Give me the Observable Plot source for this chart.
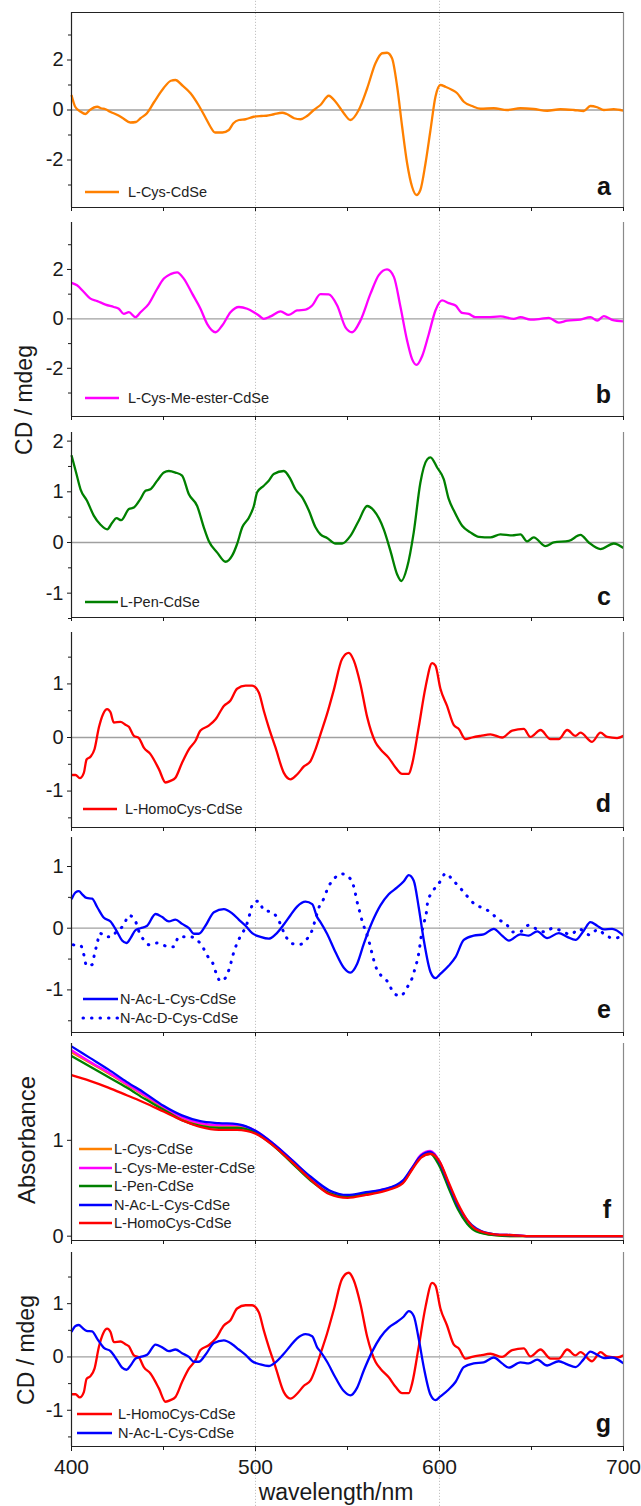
<!DOCTYPE html>
<html><head><meta charset="utf-8">
<script src="https://cdn.jsdelivr.net/npm/d3@7"></script>
<script src="https://cdn.jsdelivr.net/npm/@observablehq/plot@0.6"></script>
<style>
body{margin:0;background:#fff;}
#root{position:relative;width:641px;height:1506px;overflow:hidden;font-family:"Liberation Sans",Arial,sans-serif;}
#root svg{position:absolute;left:0;}
</style></head><body><div id="root"></div>
<script>
// ---------- DATA (wavelength nm, CD mdeg / absorbance) ----------
const lCys = [[400,0.6],[402,0.13],[405,-0.07],[407.6,-0.16],[410,0],[414,0.13],[416,0.07],[418.5,0.03],[421,-0.07],[425,-0.2],[428,-0.33],[432,-0.5],[435,-0.48],[437.5,-0.33],[441,-0.13],[445,0.33],[450,0.87],[454,1.17],[456.5,1.2],[460,1.0],[464.7,0.67],[469,0.2],[473,-0.33],[475.5,-0.67],[478,-0.9],[482,-0.9],[485.5,-0.8],[488,-0.53],[491,-0.4],[494.6,-0.37],[499,-0.27],[503,-0.24],[506,-0.23],[510,-0.17],[514.5,-0.11],[517,-0.16],[521,-0.33],[524.5,-0.37],[528,-0.24],[531.7,0],[535.3,0.2],[539.8,0.57],[543.5,0.33],[548,-0.13],[551.6,-0.4],[556.1,0],[560.7,0.87],[565.2,1.87],[568.8,2.27],[571.5,2.29],[574.2,2.07],[577,0.93],[579.7,-0.67],[582.4,-2.13],[585.1,-3.07],[587.5,-3.4],[589.6,-3.2],[592.4,-2.13],[595.1,-0.8],[597.8,0.53],[600.5,1.0],[603.2,0.93],[606.9,0.8],[609.6,0.67],[613.2,0.33],[617.7,0.16],[622.3,0.05],[629.5,0.07],[636.7,0],[644,0.07],[651.2,0.04],[658.5,-0.03],[665.7,0.03],[673,0],[678.4,-0.04],[682,0.16],[685.7,0.11],[689.3,0],[694.7,0.03],[700,-0.03]];

const lCysMe = [[400,1.46],[403,1.36],[406.7,1.09],[410.3,0.82],[414,0.72],[418.5,0.58],[423,0.48],[425.7,0.41],[428.4,0.2],[431.2,0.27],[434.8,0.07],[437.5,0.27],[442,0.61],[446.6,1.22],[450.2,1.63],[453.8,1.81],[457.4,1.88],[461,1.63],[465.6,1.02],[470.1,0.41],[473.7,-0.2],[478.3,-0.54],[481.9,-0.27],[486.4,0.27],[491,0.48],[495.5,0.41],[499.1,0.27],[501.8,0.14],[504.5,0],[508.2,0.1],[513.6,0.3],[518.1,0.16],[522.6,0.34],[527.2,0.37],[530.8,0.54],[535.3,1.0],[539.8,0.99],[544.4,0.54],[548.9,-0.34],[552.5,-0.54],[557,-0.07],[562.5,1.02],[567,1.77],[571.5,2.0],[575.2,1.7],[578.8,0.48],[582.4,-0.88],[585.1,-1.63],[587.5,-1.86],[590.6,-1.5],[594.2,-0.61],[597.8,0.34],[601.4,0.75],[605,0.64],[608.7,0.54],[612.3,0.24],[615.9,0.2],[619.5,0.07],[625.9,0.07],[633.1,0.1],[640.4,0],[644,0.07],[649.4,-0.03],[654.9,0],[659.4,0.04],[664.8,-0.15],[669.4,-0.07],[676.6,-0.03],[682,0.07],[685.7,-0.07],[689.3,0.11],[693.8,-0.04],[700,-0.1]];

const lPen = [[400,1.72],[402.7,1.35],[404.9,1.05],[408.5,0.82],[412.1,0.53],[415.8,0.35],[419.4,0.26],[422.1,0.39],[424.5,0.48],[427,0.44],[431.2,0.66],[433.9,0.69],[437.5,0.86],[440.2,1.02],[442.9,1.05],[446.6,1.22],[450.2,1.38],[452.9,1.41],[456.5,1.38],[460.1,1.32],[463.8,0.95],[468.3,0.72],[471.9,0.3],[474.6,0.03],[479.2,-0.2],[483.7,-0.38],[487.3,-0.26],[490,-0.03],[492.8,0.3],[496.4,0.49],[499.1,0.72],[500.9,0.99],[504.5,1.12],[507.2,1.22],[509.9,1.35],[515.4,1.41],[519,1.25],[521.7,1.05],[525.4,0.89],[529,0.63],[532.6,0.3],[535.3,0.16],[538.9,0.09],[543.5,-0.02],[547.1,-0.02],[551.6,0.13],[556.1,0.43],[560.7,0.72],[564.3,0.63],[569.7,0.26],[573.3,-0.16],[577,-0.63],[579.3,-0.76],[582.4,-0.49],[586,0.2],[589.6,1.18],[593.3,1.64],[595.1,1.68],[598.7,1.48],[602.3,1.25],[605,0.86],[607.8,0.63],[612.3,0.33],[616.8,0.2],[621.4,0.11],[627.7,0.1],[633.1,0.16],[639.5,0.14],[644,0.16],[647.6,0.02],[651.2,0.1],[657.6,-0.07],[662.1,0],[670.3,0.03],[676.6,0.15],[681.1,0],[687.5,-0.13],[694.7,-0.02],[700,-0.11]];

const lHomoCys = [[400,-0.7],[402.2,-0.7],[404.5,-0.76],[406.7,-0.66],[408.2,-0.41],[410.3,-0.36],[412.5,-0.22],[414.9,0.19],[417.2,0.44],[419.4,0.53],[421.2,0.47],[423,0.28],[426.6,0.29],[429.3,0.24],[431.2,0.2],[433.9,0.03],[436.6,-0.01],[439.3,-0.19],[442.9,-0.31],[447.5,-0.59],[451.1,-0.84],[453.8,-0.81],[456.5,-0.75],[460.1,-0.47],[463.8,-0.22],[467.4,-0.06],[470.1,0.13],[474.6,0.22],[478.3,0.34],[482.8,0.59],[486.4,0.69],[490,0.91],[494.6,0.97],[498.2,0.97],[501.8,0.84],[504.5,0.5],[507.2,0.19],[510.9,-0.19],[515.4,-0.66],[519,-0.78],[522.6,-0.69],[526.3,-0.54],[529.9,-0.44],[532.6,-0.22],[535.3,0.06],[538.9,0.44],[542.5,0.88],[547.1,1.47],[550.7,1.58],[553.4,1.44],[557,1.0],[560.7,0.38],[565.2,-0.09],[567.9,-0.22],[572.4,-0.38],[576.1,-0.56],[579.7,-0.68],[583.3,-0.68],[585.1,-0.5],[588.7,0.19],[592.4,0.94],[596,1.39],[597.8,1.34],[600.5,0.91],[604.1,0.59],[607.8,0.23],[610.5,0.16],[614.1,-0.03],[617.7,0],[622.3,0.03],[627.7,0.06],[634,0],[639.5,0.13],[645.8,0.16],[649.4,0.01],[654.9,0.14],[660.3,-0.03],[664.8,-0.03],[669.4,0.14],[673.9,0.03],[676.6,0.09],[682.9,-0.08],[687.5,0.09],[691.1,0.01],[696.5,-0.01],[700,0.03]];

const nAcLCys = [[400,0.47],[402.2,0.58],[404,0.6],[405.8,0.55],[408.2,0.49],[411.2,0.48],[414,0.34],[417.6,0.17],[421.2,0.11],[424.8,-0.06],[427.5,-0.2],[429.9,-0.24],[432.1,-0.16],[434.8,-0.03],[437.5,0],[441.1,0.04],[445.7,0.23],[449.3,0.18],[452.9,0.11],[456.5,0.14],[460.1,0.07],[463.8,0],[466.5,-0.09],[469.2,-0.09],[472.8,0.04],[477.4,0.26],[482.8,0.31],[487.3,0.24],[490.9,0.14],[494.6,0.04],[498.2,-0.08],[502.7,-0.14],[507.2,-0.17],[510.9,-0.1],[515.4,0.06],[519,0.21],[522.6,0.35],[527.2,0.43],[530.8,0.39],[533.5,0.18],[535.3,0.1],[538.9,-0.09],[543.5,-0.39],[548,-0.64],[551.6,-0.72],[555.2,-0.58],[558.9,-0.25],[563.4,0.1],[567.9,0.37],[572.4,0.55],[577,0.66],[580.6,0.76],[583.3,0.86],[586,0.77],[588.7,0.34],[591.5,-0.2],[595.1,-0.71],[597.8,-0.81],[600.5,-0.74],[605,-0.61],[608.7,-0.47],[613.2,-0.19],[618.6,-0.12],[624,-0.1],[629.5,-0.01],[634,-0.12],[637.7,-0.2],[644,-0.1],[648.5,-0.12],[653.1,-0.05],[658.5,-0.16],[664.8,-0.08],[669.4,-0.14],[673.9,-0.19],[678.4,-0.04],[682,0.1],[685.7,0.04],[689.3,-0.02],[693.8,-0.01],[700,-0.12]];

const nAcDCys = [[401,-0.27],[405,-0.28],[406.7,-0.43],[408.2,-0.61],[411.2,-0.59],[412.5,-0.42],[414,-0.24],[415.4,-0.08],[418.5,-0.14],[421.7,-0.14],[424.8,-0.04],[428.4,0.05],[431.2,0.21],[434.8,0.11],[436.6,-0.05],[439.3,-0.19],[442.4,-0.27],[446.6,-0.24],[452.9,-0.3],[455.6,-0.3],[458.3,-0.14],[461,-0.14],[464.7,-0.14],[468.3,-0.19],[471.6,-0.32],[474.1,-0.46],[477.4,-0.61],[478.8,-0.75],[481.3,-0.86],[484.6,-0.75],[486.4,-0.59],[487.9,-0.42],[490,-0.24],[492.2,-0.11],[495.1,0.05],[496.9,0.23],[498.7,0.41],[501.8,0.44],[504.5,0.29],[509.1,0.26],[511.8,0.17],[516.8,-0.15],[519.9,-0.25],[524.5,-0.26],[528.1,-0.17],[530.8,-0.03],[532.6,0.15],[534.4,0.33],[537.1,0.48],[539.3,0.65],[542.9,0.81],[547.1,0.88],[552.1,0.78],[554,0.6],[555.2,0.43],[556.7,0.26],[558.3,0.08],[560.3,-0.08],[562.1,-0.26],[563.6,-0.44],[565.2,-0.61],[568.3,-0.77],[572.4,-0.89],[574.8,-1.04],[578.8,-1.1],[582.4,-0.96],[585.1,-0.81],[586.9,-0.63],[588.4,-0.46],[589.3,-0.29],[590.2,-0.1],[591.5,0.08],[592.9,0.26],[593.6,0.43],[596.4,0.6],[600.2,0.75],[603.4,0.89],[607.2,0.78],[611,0.66],[615,0.52],[619.5,0.38],[623.5,0.33],[628.1,0.25],[631.9,0.14],[636,0.08],[639.8,-0.06],[644.4,-0.05],[648.5,0.05],[653.1,-0.02],[657.2,-0.06],[661.6,0],[671.5,-0.1],[675.7,-0.01],[681.7,-0.11],[686,-0.02],[690.4,-0.12],[694.7,-0.16],[700,-0.13]];

// absorbance (panel f)
const absWl      = [400,410,420,430,440,450,460,470,480,490,500,510,520,530,540,550,560,570,580,585,590,595,600,605,610,615,620,630,640,650,700];
const absLCys    = [1.92,1.81,1.70,1.58,1.46,1.34,1.23,1.17,1.15,1.15,1.09,0.95,0.78,0.60,0.46,0.41,0.44,0.48,0.56,0.70,0.84,0.87,0.76,0.52,0.30,0.14,0.06,0.01,0,0,0];
const absLCysMe  = [1.94,1.82,1.71,1.59,1.47,1.35,1.24,1.18,1.16,1.16,1.10,0.96,0.79,0.61,0.47,0.42,0.45,0.49,0.57,0.71,0.85,0.89,0.78,0.54,0.31,0.15,0.07,0.02,0.01,0,0];
const absLPen    = [1.88,1.77,1.66,1.55,1.43,1.32,1.21,1.15,1.13,1.13,1.08,0.94,0.76,0.58,0.45,0.41,0.44,0.48,0.56,0.70,0.83,0.86,0.73,0.50,0.28,0.13,0.05,0.01,0,0,0];
const absNAcLCys = [1.98,1.86,1.74,1.61,1.49,1.36,1.26,1.20,1.18,1.17,1.10,0.96,0.79,0.62,0.48,0.43,0.46,0.49,0.58,0.71,0.84,0.88,0.77,0.54,0.32,0.17,0.08,0.02,0.01,0,0];
const absLHomo   = [1.68,1.62,1.55,1.47,1.39,1.30,1.21,1.14,1.11,1.11,1.07,0.94,0.77,0.59,0.44,0.40,0.43,0.47,0.55,0.69,0.82,0.86,0.78,0.56,0.34,0.17,0.07,0.02,0.01,0,0];

const names = {
  lCys: "L-Cys-CdSe", lCysMe: "L-Cys-Me-ester-CdSe", lPen: "L-Pen-CdSe",
  lHomo: "L-HomoCys-CdSe", nAcL: "N-Ac-L-Cys-CdSe", nAcD: "N-Ac-D-Cys-CdSe"
};
const xTicksAll = [400,450,500,550,600,650,700];
const xMajor = [400,500,600,700];
const xMinor = [450,550,650];

// ---------- STYLES ----------
const C = {orange:"#FF8000", magenta:"#FF00FF", green:"#008000", red:"#FF0000", blue:"#0000FF"};
const DOT = "0.5,8";
const pts = arr => arr.map(([x, y]) => ({x, y}));
const absPts = vals => absWl.map((x, i) => ({x, y: vals[i]}));

// ---------- LAYOUT ----------
const panels = [
  {svgTop:0, svgBottom:215, top:12, bottom:207, y:[-3.9,3.9], major:[-2,0,2], minor:[-3,-1,1,3], topFrame:true,
   series:[{data:pts(lCys), color:C.orange, name:names.lCys}],
   letter:"a", letterDy:12, legend:{x0:85, len:34, tx:128, ys:[192]}},
  {svgTop:215, svgBottom:425, top:222, bottom:416, y:[-3.95,3.9], major:[-2,0,2], minor:[-3,-1,1,3],
   series:[{data:pts(lCysMe), color:C.magenta, name:names.lCysMe}],
   letter:"b", letterDy:13, legend:{x0:85, len:34, tx:128, ys:[398]}},
  {svgTop:425, svgBottom:625, top:432, bottom:617, y:[-1.48,2.17], major:[-1,0,1,2], minor:[-1.5,-0.5,0.5,1.5],
   series:[{data:pts(lPen), color:C.green, name:names.lPen}],
   letter:"c", letterDy:12, legend:{x0:85, len:33, tx:120, ys:[602]}},
  {svgTop:625, svgBottom:832, top:632, bottom:827, y:[-1.68,1.96], major:[-1,0,1], minor:[-1.5,-0.5,0.5,1.5],
   series:[{data:pts(lHomoCys), color:C.red, name:names.lHomo}],
   letter:"d", letterDy:15, legend:{x0:83, len:34, tx:125, ys:[809]}},
  {svgTop:832, svgBottom:1037, top:837, bottom:1032, y:[-1.69,1.47], major:[-1,0,1], minor:[-1.5,-0.5,0.5],
   series:[{data:pts(nAcLCys), color:C.blue, name:names.nAcL},
           {data:pts(nAcDCys), color:C.blue, name:names.nAcD, dash:DOT}],
   letter:"e", letterDy:14, legend:{x0:83, len:35, tx:120, ys:[999,1018]}},
  {svgTop:1037, svgBottom:1246, top:1043, bottom:1240, y:[-0.045,2.01], major:[0,1], minor:[], zero:false,
   series:[{data:absPts(absLCys), color:C.orange, name:names.lCys},
           {data:absPts(absLCysMe), color:C.magenta, name:names.lCysMe},
           {data:absPts(absLPen), color:C.green, name:names.lPen},
           {data:absPts(absNAcLCys), color:C.blue, name:names.nAcL},
           {data:absPts(absLHomo), color:C.red, name:names.lHomo}],
   letter:"f", letterDy:22, legend:{x0:79, len:33, tx:114, ys:[1149,1168,1186,1205,1223]}},
  {svgTop:1246, svgBottom:1506, top:1252, bottom:1446, y:[-1.68,1.96], major:[-1,0,1], minor:[-1.5,-0.5,0.5,1.5], last:true,
   series:[{data:pts(lHomoCys), color:C.red, name:names.lHomo},
           {data:pts(nAcLCys), color:C.blue, name:names.nAcL}],
   letter:"g", letterDy:14, legend:{x0:77, len:35, tx:118, ys:[1414,1433]}}
];

const root = document.getElementById("root");
const fmt = d => String(d);

for (const L of panels) {
  const height = L.svgBottom - L.svgTop;
  const mt = L.top - L.svgTop, mb = L.svgBottom - L.bottom;
  const [d0, d1] = L.y;
  const k = (d1 - d0) / (L.bottom - L.top);
  const marks = [
    Plot.ruleX([500, 600], {y1: d0 - mb * k, y2: d1 + mt * k, stroke: "#c4c4c4", strokeWidth: 1, strokeDasharray: "1.2,1.8"})
  ];
  if (L.zero !== false) marks.push(Plot.ruleY([0], {stroke: "#a0a0a0", strokeWidth: 1.3}));
  for (const s of L.series) {
    marks.push(Plot.line(s.data, {x: "x", y: "y", stroke: s.color, strokeWidth: s.dash ? 3 : 2.3,
      curve: "monotone-x", strokeDasharray: s.dash, strokeLinecap: s.dash ? "round" : "butt"}));
  }
  marks.push(Plot.ruleX([700], {stroke: "#8a8a8a", strokeWidth: 1.2}));
  marks.push(Plot.ruleX([400], {stroke: "#222", strokeWidth: 1.2}));
  marks.push(Plot.ruleY([d0], {stroke: "#222", strokeWidth: 1.2}));
  if (L.topFrame) marks.push(Plot.ruleY([d1], {stroke: "#222", strokeWidth: 1.2}));
  marks.push(Plot.axisY(L.major, {tickSize: 4, tickPadding: 4, fontSize: 20, label: null, tickFormat: fmt}));
  if (L.minor.length) marks.push(Plot.axisY(L.minor, {tickSize: 3, tickFormat: () => "", label: null}));
  if (L.last) {
    marks.push(Plot.axisX(xMajor, {tickSize: 5, tickPadding: 8, fontSize: 21, label: null, tickFormat: fmt}));
    marks.push(Plot.axisX(xMinor, {tickSize: 4, tickFormat: () => "", label: null}));
  } else {
    marks.push(Plot.axisX(xTicksAll, {tickSize: 4, tickFormat: () => "", label: null}));
  }
  const svg = Plot.plot({
    width: 641, height, marginTop: mt, marginBottom: mb, marginLeft: 71, marginRight: 18,
    x: {domain: [400, 700]}, y: {domain: L.y},
    style: {fontFamily: '"Liberation Sans", Arial, sans-serif', fontSize: "20px", color: "#1a1a1a", background: "transparent", overflow: "visible"},
    marks
  });
  svg.style.top = L.svgTop + "px";
  root.appendChild(svg);
}

// ---------- OVERLAY: titles, legends, panel letters ----------
const ov = d3.select(root).append("svg")
  .attr("width", 641).attr("height", 1506)
  .style("top", "0px").style("pointer-events", "none")
  .style("font-family", '"Liberation Sans", Arial, sans-serif');

const titles = [
  {text: "CD / mdeg", x: 32, y: 400, size: 23, rot: true},
  {text: "Absorbance", x: 35, y: 1140, size: 24, rot: true},
  {text: "CD / mdeg", x: 34, y: 1350, size: 23, rot: true},
  {text: "wavelength/nm", x: 336, y: 1500, size: 23, rot: false}
];
for (const t of titles) {
  ov.append("text").text(t.text)
    .attr("transform", t.rot ? `translate(${t.x},${t.y}) rotate(-90)` : `translate(${t.x},${t.y})`)
    .attr("text-anchor", "middle").attr("font-size", t.size).attr("fill", "#1a1a1a");
}

for (const L of panels) {
  ov.append("text").text(L.letter)
    .attr("x", 611).attr("y", L.bottom - L.letterDy)
    .attr("text-anchor", "end").attr("font-size", 25).attr("font-weight", "bold").attr("fill", "#111");
  const lg = L.legend;
  L.series.forEach((s, i) => {
    const y = lg.ys[i];
    ov.append("line").attr("x1", lg.x0).attr("x2", lg.x0 + lg.len).attr("y1", y).attr("y2", y)
      .attr("stroke", s.color).attr("stroke-width", s.dash ? 3 : 2.5)
      .attr("stroke-dasharray", s.dash || null).attr("stroke-linecap", s.dash ? "round" : "butt");
    ov.append("text").text(s.name).attr("x", lg.tx).attr("y", y).attr("dy", "0.35em")
      .attr("font-size", 14.5).attr("fill", "#222");
  });
}
</script>
</body></html>
